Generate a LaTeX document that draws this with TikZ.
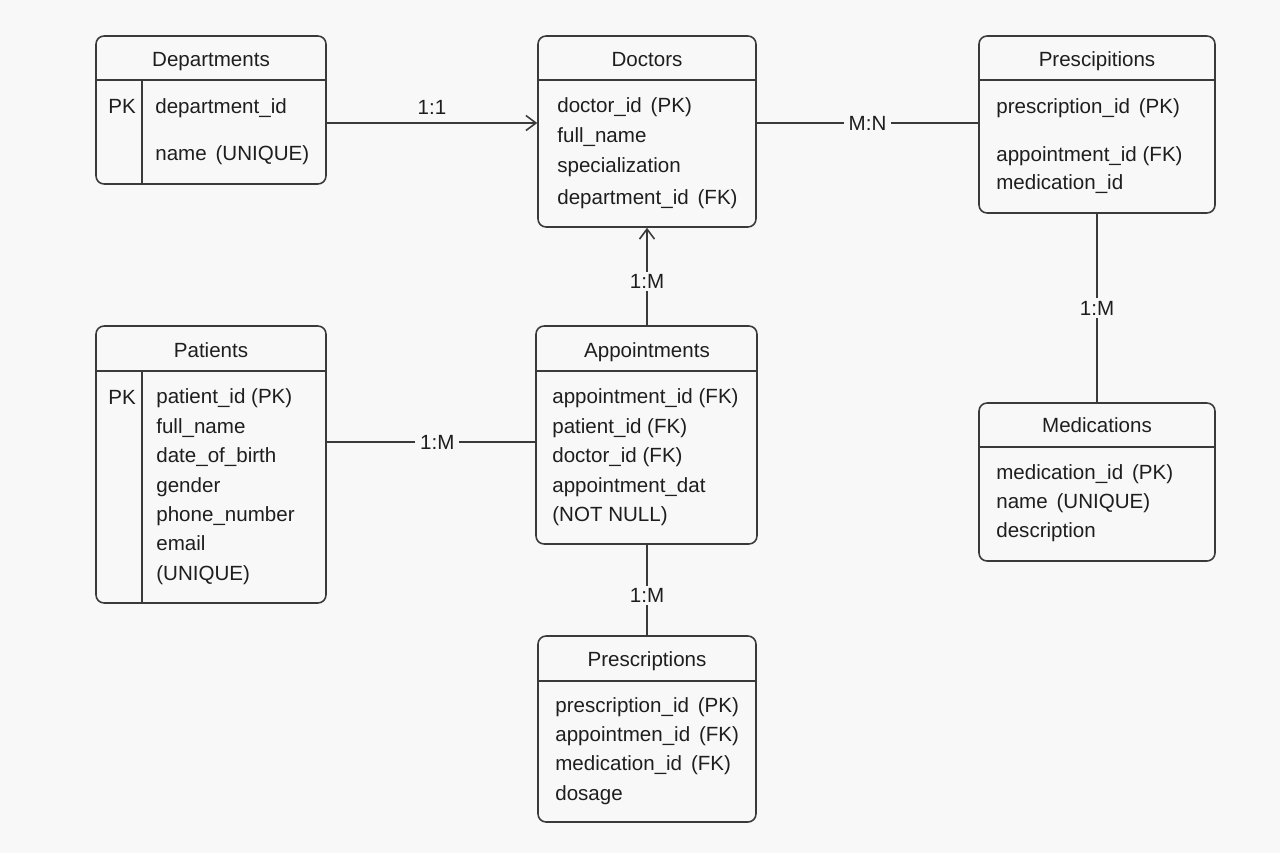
\documentclass[tikz,border=0pt]{standalone}
\usepackage{fontspec}
\setmainfont{Liberation Sans}
\usetikzlibrary{arrows.meta}
\definecolor{bgcol}{HTML}{F8F8F8}
\definecolor{linecol}{HTML}{3A3A3A}
\definecolor{textcol}{HTML}{1E1E1E}
\newcommand{\colgap}{\hspace{0.43em}}
\begin{document}
\begin{tikzpicture}[x=0.02cm, y=0.02cm]
	\tikzstyle{every node}+=[inner sep=0pt, text=textcol, font=\fontsize{11.7}{14}\selectfont]
	\tikzstyle{entity}=[draw=linecol, line width=0.9pt, rounded corners=0.16cm]
	\tikzstyle{rule}=[draw=linecol, line width=0.9pt]
	\tikzstyle{head}=[anchor=base]
	\tikzstyle{field}=[anchor=base west]
	\tikzstyle{rel}=[draw=linecol, line width=0.9pt]
	\tikzstyle{card}=[fill=bgcol, inner xsep=0.1cm, inner ysep=0.05cm]
	\tikzstyle{barb}=[-{Straight Barb[length=0.2cm, width=0.3cm, line width=0.9pt]}]
	\fill [bgcol] (0,0) rectangle (1280,-853);
	\node [entity, minimum width=4.6cm, minimum height=2.96cm] (dept) at (211,-110) {};
	\node [head] (dept-t) at (211,-66) {Departments};
	\draw [rule] (dept.west |- 0,-80) -- (dept.east |- 0,-80);
	\draw [rule] (142,-80) -- (142,0 |- dept.south);
	\node [field] (dept-pk) at (108,-113) {PK};
	\node [field] (dept-1) at (155,-113) {department\_id};
	\node [field] (dept-2) at (155,-160) {name\colgap(UNIQUE)};
	\node [entity, minimum width=4.36cm, minimum height=3.82cm] (doc) at (647,-131.5) {};
	\node [head] (doc-t) at (647,-66) {Doctors};
	\draw [rule] (doc.west |- 0,-80) -- (doc.east |- 0,-80);
	\node [field] (doc-1) at (557,-112) {doctor\_id\colgap(PK)};
	\node [field] (doc-2) at (557,-142) {full\_name};
	\node [field] (doc-3) at (557,-172) {specialization};
	\node [field] (doc-4) at (557,-204) {department\_id\colgap(FK)};
	\node [entity, minimum width=4.72cm, minimum height=3.54cm] (presa) at (1097,-124.5) {};
	\node [head] (presa-t) at (1097,-66) {Prescipitions};
	\draw [rule] (presa.west |- 0,-80) -- (presa.east |- 0,-80);
	\node [field] (presa-1) at (996,-113) {prescription\_id\colgap(PK)};
	\node [field] (presa-2) at (996,-161) {appointment\_id (FK)};
	\node [field] (presa-3) at (996,-189) {medication\_id};
	\node [entity, minimum width=4.6cm, minimum height=5.54cm] (pat) at (211,-464.5) {};
	\node [head] (pat-t) at (211,-357) {Patients};
	\draw [rule] (pat.west |- 0,-371) -- (pat.east |- 0,-371);
	\draw [rule] (142,-371) -- (142,0 |- pat.south);
	\node [field] (pat-pk) at (108,-404) {PK};
	\node [field] (pat-1) at (156,-403) {patient\_id (PK)};
	\node [field] (pat-2) at (156,-433) {full\_name};
	\node [field] (pat-3) at (156,-462) {date\_of\_birth};
	\node [field] (pat-4) at (156,-492) {gender};
	\node [field] (pat-5) at (156,-521) {phone\_number};
	\node [field] (pat-6) at (156,-550) {email};
	\node [field] (pat-7) at (156,-580) {(UNIQUE)};
	\node [entity, minimum width=4.42cm, minimum height=4.36cm] (appt) at (646.5,-435) {};
	\node [head] (appt-t) at (647,-357) {Appointments};
	\draw [rule] (appt.west |- 0,-371) -- (appt.east |- 0,-371);
	\node [field] (appt-1) at (552,-403) {appointment\_id (FK)};
	\node [field] (appt-2) at (552,-433) {patient\_id (FK)};
	\node [field] (appt-3) at (552,-462) {doctor\_id (FK)};
	\node [field] (appt-4) at (552,-492) {appointment\_dat};
	\node [field] (appt-5) at (552,-521) {(NOT NULL)};
	\node [entity, minimum width=4.36cm, minimum height=3.72cm] (presb) at (647,-729) {};
	\node [head] (presb-t) at (647,-666) {Prescriptions};
	\draw [rule] (presb.west |- 0,-681) -- (presb.east |- 0,-681);
	\node [field] (presb-1) at (555,-712) {prescription\_id\colgap(PK)};
	\node [field] (presb-2) at (555,-741) {appointmen\_id\colgap(FK)};
	\node [field] (presb-3) at (555,-770) {medication\_id\colgap(FK)};
	\node [field] (presb-4) at (555,-800) {dosage};
	\node [entity, minimum width=4.72cm, minimum height=3.16cm] (med) at (1097,-482) {};
	\node [head] (med-t) at (1097,-432) {Medications};
	\draw [rule] (med.west |- 0,-447) -- (med.east |- 0,-447);
	\node [field] (med-1) at (996,-479) {medication\_id\colgap(PK)};
	\node [field] (med-2) at (996,-508) {name\colgap(UNIQUE)};
	\node [field] (med-3) at (996,-537) {description};
	\draw [rel, barb] (dept.east |- 0,-123) -- node [above=0.16cm] (c-dept-doc) {1:1} (doc.west |- 0,-123);
	\draw [rel] (doc.east |- 0,-123) -- node [card] (c-doc-presa) {M:N} (presa.west |- 0,-123);
	\draw [rel, barb] (appt.north -| doc.south) -- node [card, pos=0.45] (c-appt-doc) {1:M} (doc.south);
	\draw [rel] (pat.east |- 0,-442) -- node [card, pos=0.53] (c-pat-appt) {1:M} (appt.west |- 0,-442);
	\draw [rel] (appt.south -| presb.north) -- node [card, pos=0.56] (c-appt-presb) {1:M} (presb.north);
	\draw [rel] (presa.south) -- node [card] (c-presa-med) {1:M} (med.north);
\end{tikzpicture}
\end{document}
